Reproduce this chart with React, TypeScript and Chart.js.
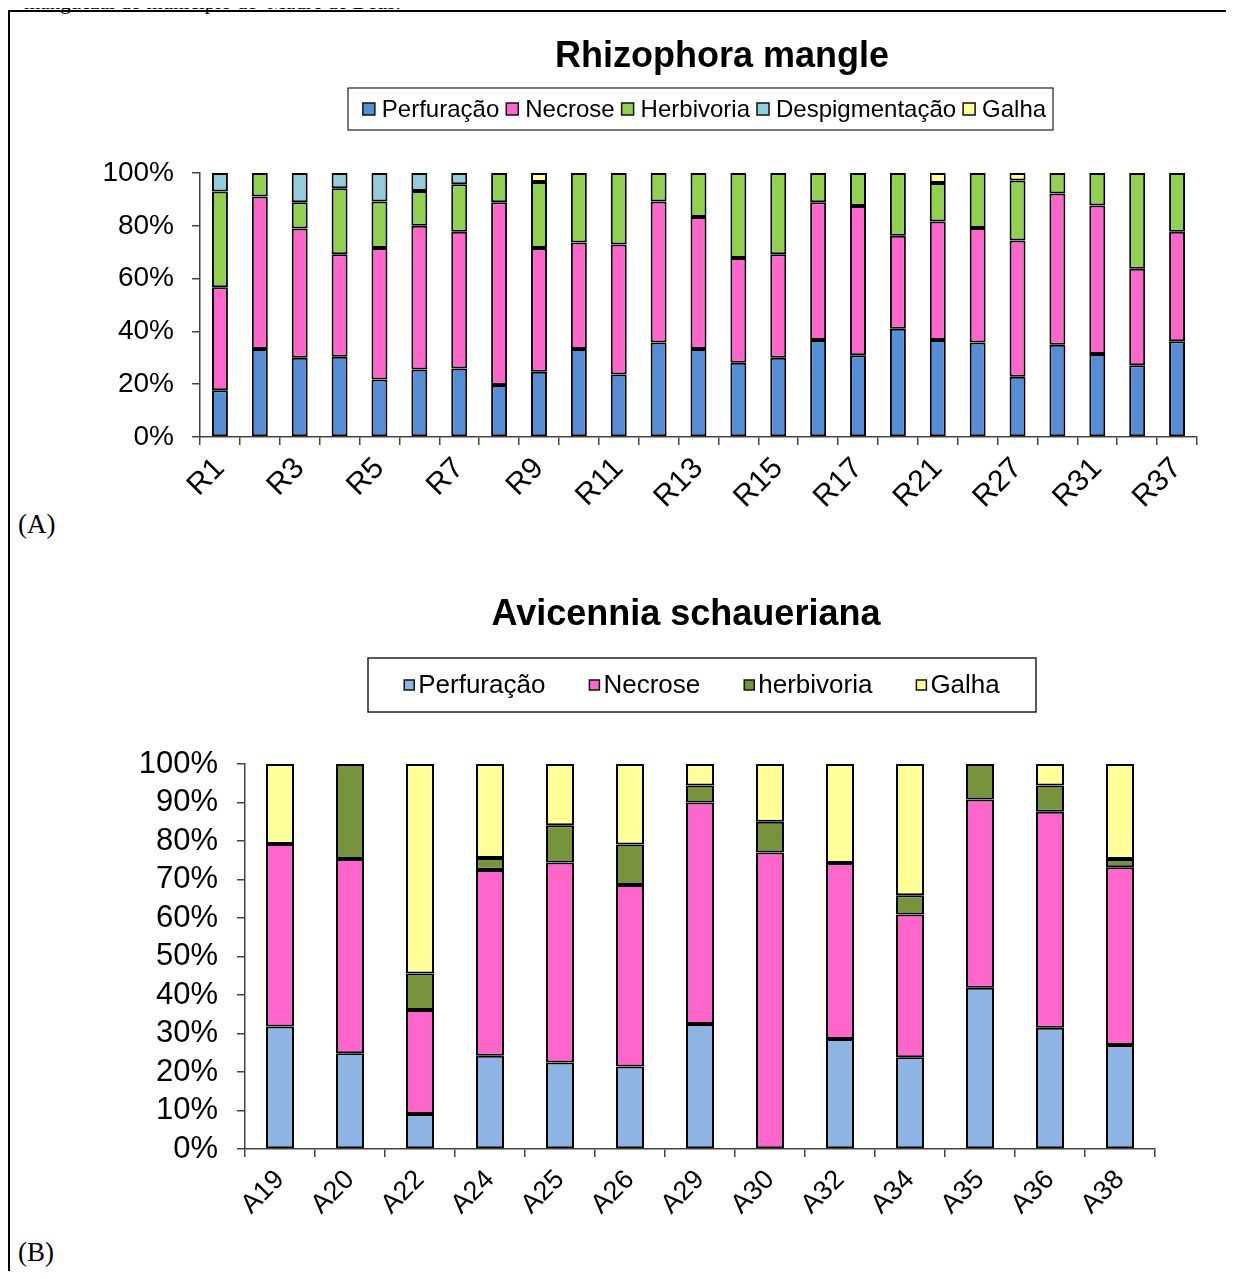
import React, { useEffect, useRef } from "react";
import { Chart, registerables } from "chart.js";

Chart.register(...registerables);

const SANS = "'Liberation Sans', Arial, Helvetica, sans-serif";
const SERIF = "'Liberation Serif', 'Times New Roman', serif";

// ---------- Chart A: Rhizophora mangle ----------
const rhizoCategories = ["R1", "R2", "R3", "R4", "R5", "R6", "R7", "R8", "R9", "R10", "R11", "R12", "R13", "R14", "R15", "R16", "R17", "R19", "R21", "R23", "R27", "R29", "R31", "R34", "R37"];
const rhizoPerfuracao = [17.7, 33.3, 30.0, 30.4, 21.8, 25.6, 25.9, 19.7, 24.7, 33.3, 23.7, 35.8, 33.3, 28.1, 30.0, 36.7, 31.0, 41.0, 36.7, 35.8, 22.8, 34.9, 31.4, 27.2, 36.3];
const rhizoNecrose = [39.0, 57.8, 49.0, 38.8, 49.8, 54.4, 51.8, 69.2, 46.9, 40.4, 49.2, 53.4, 50.0, 39.7, 39.2, 52.2, 56.5, 35.2, 44.9, 43.4, 51.6, 57.3, 56.3, 36.5, 41.4];
const rhizoHerbivoria = [36.3, 8.9, 9.9, 25.0, 17.6, 13.2, 18.0, 11.1, 25.0, 26.3, 27.1, 10.8, 16.7, 32.2, 30.8, 11.1, 12.5, 23.8, 14.6, 20.8, 22.8, 7.8, 12.3, 36.3, 22.3];
const rhizoDespigmentacao = [7.0, 0, 11.1, 5.8, 10.8, 6.8, 4.3, 0, 0, 0, 0, 0, 0, 0, 0, 0, 0, 0, 0, 0, 0, 0, 0, 0, 0];
const rhizoGalha = [0, 0, 0, 0, 0, 0, 0, 0, 3.4, 0, 0, 0, 0, 0, 0, 0, 0, 0, 3.8, 0, 2.8, 0, 0, 0, 0];
const rhizoTicks = [0, 20, 40, 60, 80, 100];

// ---------- Chart B: Avicennia schaueriana ----------
const aviCategories = ["A19", "A20", "A22", "A24", "A25", "A26", "A29", "A30", "A32", "A34", "A35", "A36", "A38"];
const aviPerfuracao = [31.8, 24.9, 9.1, 24.2, 22.5, 21.4, 32.5, 0, 28.6, 23.8, 41.9, 31.5, 27.0];
const aviNecrose = [47.4, 50.4, 27.0, 48.3, 51.9, 47.2, 57.5, 77.0, 45.7, 37.1, 48.9, 56.1, 46.2];
const aviHerbivoria = [0, 24.7, 9.5, 3.1, 9.7, 10.5, 4.4, 8.0, 0, 5.0, 9.2, 6.8, 2.1];
const aviGalha = [20.8, 0, 54.4, 24.4, 15.9, 20.9, 5.6, 15.0, 25.7, 34.1, 0, 5.6, 24.7];
const aviTicks = [0, 10, 20, 30, 40, 50, 60, 70, 80, 90, 100];

// custom header (title + boxed legend) plugin
const headerPlugin = {
  id: "header",
  afterDraw(chart: any, _args: any, opts: any) {
    const ctx = chart.ctx;
    ctx.save();
    ctx.fillStyle = "#000";
    ctx.font = `bold ${opts.titleSize}px ${SANS}`;
    ctx.textAlign = "center";
    ctx.textBaseline = "alphabetic";
    ctx.fillText(opts.title, opts.titleX, opts.titleY);
    const bx = opts.boxX, by = opts.boxY, bw = opts.boxW, bh = opts.boxH;
    ctx.lineWidth = opts.boxLine;
    ctx.strokeStyle = "#222";
    ctx.strokeRect(bx, by, bw, bh);
    ctx.font = `${opts.fontSize}px ${SANS}`;
    const ds = chart.data.datasets;
    const widths = ds.map((d: any) => ctx.measureText(d.label).width);
    const sw = opts.swatch, gap = opts.gap, itemGap = opts.itemGap;
    let total = 0;
    widths.forEach((w: number, i: number) => {
      total += sw + gap + w + (i < widths.length - 1 ? itemGap : 0);
    });
    let x = bx + bw / 2 - total / 2 + (opts.shift || 0);
    const cy = by + bh / 2;
    ctx.textAlign = "left";
    ctx.textBaseline = "middle";
    ds.forEach((d: any, i: number) => {
      ctx.fillStyle = d.backgroundColor;
      ctx.fillRect(x, cy - sw / 2, sw, sw);
      ctx.lineWidth = 1.5;
      ctx.strokeStyle = "#111";
      ctx.strokeRect(x, cy - sw / 2, sw, sw);
      ctx.fillStyle = "#000";
      ctx.fillText(d.label, x + sw + gap, cy + 1);
      x += sw + gap + widths[i] + itemGap;
    });
    ctx.restore();
  },
};

function makeDataset(label: string, data: number[], color: string) {
  return {
    label,
    data,
    backgroundColor: color,
    borderColor: "#000",
    borderWidth: 2,
    borderSkipped: false,
    inflateAmount: 0,
    barPercentage: 0.4,
    categoryPercentage: 1.0,
  };
}

type ChartSpec = {
  left: number;
  top: number;
  width: number;
  height: number;
  config: any;
};

function ChartCanvas({ spec }: { spec: ChartSpec }) {
  const ref = useRef<HTMLCanvasElement | null>(null);
  useEffect(() => {
    if (!ref.current) return;
    const chart = new Chart(ref.current, spec.config);
    return () => chart.destroy();
  }, [spec]);
  return (
    <canvas
      ref={ref}
      width={spec.width}
      height={spec.height}
      style={{ position: "absolute", left: spec.left, top: spec.top, width: spec.width, height: spec.height, display: "block" }}
    />
  );
}

function buildConfig(opts: {
  labels: string[];
  datasets: any[];
  step: number;
  showEvery: number;
  yWidth: number;
  xHeight: number;
  padding: any;
  yFont: number;
  xFont: number;
  yPad: number;
  xPad: number;
  rotation: number;
  header: any;
}) {
  return {
    type: "bar",
    data: { labels: opts.labels, datasets: opts.datasets },
    plugins: [headerPlugin],
    options: {
      responsive: false,
      animation: false,
      devicePixelRatio: 1,
      layout: { padding: opts.padding },
      plugins: {
        legend: { display: false },
        title: { display: false },
        tooltip: { enabled: false },
        header: opts.header,
      },
      scales: {
        x: {
          stacked: true,
          afterFit: (s: any) => {
            s.height = opts.xHeight;
          },
          border: { display: true, color: "#444", width: 1.5 },
          grid: { display: true, drawOnChartArea: false, drawTicks: true, tickLength: 8, color: "#444", lineWidth: 1.5, offset: true },
          ticks: {
            autoSkip: false,
            maxRotation: opts.rotation,
            minRotation: opts.rotation,
            padding: opts.xPad,
            color: "#000",
            font: { family: SANS, size: opts.xFont },
            callback: (_v: any, i: number) => (i % opts.showEvery === 0 ? opts.labels[i] : ""),
          },
        },
        y: {
          stacked: true,
          min: 0,
          max: 100,
          afterFit: (s: any) => {
            s.width = opts.yWidth;
          },
          border: { display: true, color: "#444", width: 1.5 },
          grid: { display: true, drawOnChartArea: false, drawTicks: true, tickLength: 8, color: "#444", lineWidth: 1.5 },
          ticks: {
            autoSkip: false,
            stepSize: opts.step,
            padding: opts.yPad,
            color: "#000",
            font: { family: SANS, size: opts.yFont },
            callback: (v: any) => `${v}%`,
          },
        },
      },
    },
  };
}

const specA: ChartSpec = {
  left: 60,
  top: 20,
  width: 1160,
  height: 500,
  config: buildConfig({
    labels: rhizoCategories,
    datasets: [
      makeDataset("Perfuração", rhizoPerfuracao, "#558ED5"),
      makeDataset("Necrose", rhizoNecrose, "#FF66CC"),
      makeDataset("Herbivoria", rhizoHerbivoria, "#92D050"),
      makeDataset("Despigmentação", rhizoDespigmentacao, "#92CDDC"),
      makeDataset("Galha", rhizoGalha, "#FFFF99"),
    ],
    step: rhizoTicks[1] - rhizoTicks[0],
    showEvery: 2,
    yWidth: 140,
    xHeight: 83,
    padding: { top: 153, left: 0, right: 23, bottom: 0 },
    yFont: 28,
    xFont: 30,
    yPad: 18,
    xPad: 6,
    rotation: 45,
    header: {
      title: "Rhizophora mangle",
      titleSize: 36,
      titleX: 662,
      titleY: 47,
      boxX: 288,
      boxY: 68,
      boxW: 705,
      boxH: 42,
      boxLine: 1.2,
      fontSize: 24,
      swatch: 12,
      gap: 7,
      itemGap: 7,
      shift: 4,
    },
  }),
};

const specB: ChartSpec = {
  left: 80,
  top: 580,
  width: 1120,
  height: 660,
  config: buildConfig({
    labels: aviCategories,
    datasets: [
      makeDataset("Perfuração", aviPerfuracao, "#8DB4E2"),
      makeDataset("Necrose", aviNecrose, "#FF66CC"),
      makeDataset("herbivoria", aviHerbivoria, "#77933C"),
      makeDataset("Galha", aviGalha, "#FFFF99"),
    ],
    step: aviTicks[1] - aviTicks[0],
    showEvery: 1,
    yWidth: 165,
    xHeight: 91,
    padding: { top: 184, left: 0, right: 45, bottom: 0 },
    yFont: 31,
    xFont: 27,
    yPad: 19,
    xPad: 7,
    rotation: 45,
    header: {
      title: "Avicennia schaueriana",
      titleSize: 36,
      titleX: 606,
      titleY: 45,
      boxX: 288,
      boxY: 78,
      boxW: 668,
      boxH: 54,
      boxLine: 1.5,
      fontSize: 26,
      swatch: 10,
      gap: 4,
      itemGap: 44,
      shift: 0,
    },
  }),
};

export default function App() {
  return (
    <div style={{ position: "relative", margin: -8, width: 1234, height: 1279, overflow: "hidden", background: "#fff" }}>
      <div
        style={{
          position: "absolute",
          left: 24,
          top: -8,
          fontFamily: SERIF,
          fontSize: 21,
          lineHeight: "21px",
          whiteSpace: "pre",
          color: "#000",
        }}
      >
        manguezal do município de  Madre de Deus.
      </div>
      <div
        style={{
          position: "absolute",
          left: 8,
          top: 10,
          width: 1300,
          height: 1300,
          borderTop: "2px solid #000",
          borderLeft: "2px solid #000",
        }}
      />
      <ChartCanvas spec={specA} />
      <ChartCanvas spec={specB} />
      <div style={{ position: "absolute", left: 18, top: 508, fontFamily: SERIF, fontSize: 27, lineHeight: "32px", color: "#000" }}>(A)</div>
      <div style={{ position: "absolute", left: 18, top: 1236, fontFamily: SERIF, fontSize: 27, lineHeight: "32px", color: "#000" }}>(B)</div>
    </div>
  );
}
